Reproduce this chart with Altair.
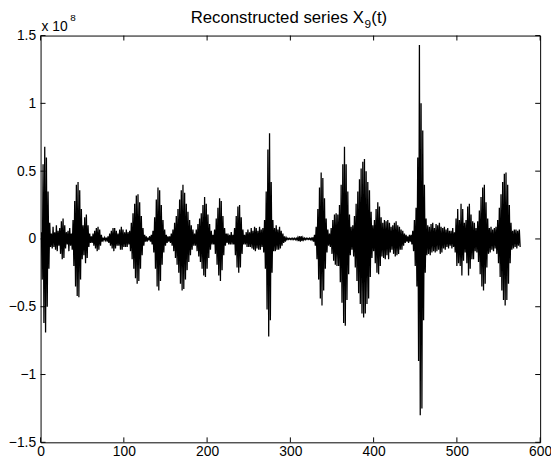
import altair as alt
import pandas as pd

# Series values, in units of 1e6 (t = 1, 2, 3, ...)
burst_000 = [5, -30, 55, -62, 68, -69, 60, -50, 35, -22, 12, -6]
quiet_012 = [4, -7, 9, -6, 5, -8, 10, -9, 6, -5, 8, -11, 13, -15, 15, -14, 10, -7, 5, -4, 6, -9, 8, -5, 4]
burst_037 = [-8, 14, -20, 28, -35, 40, -42, 42, -43, 36, -30, 22, -15, 10, -12, 16, -18, 18, -14, 10]
quiet_057 = [-6, 4, -3, 2, -3, 4, -5, 6, -7, 8, -9, 9, -8, 7, -5, 3, -2, 1, -1, 1, -1, 1, -2, 2, -3, 4]
quiet_083 = [-5, 6, -7, 8, -9, 8, -7, 6, -5, 4, -5, 7, -8, 9, -8, 7, -6, 5, -6, 7, -6, 5, -4]
burst_106 = [6, -9, 12, -15, 19, -22, 26, -29, 32, -33, 33, -31, 27, -22, 17, -12, 8, -5, 3, -2, 2, -2, 1, -1, 2, -2, 3, -4]
burst_134 = [6, -10, 16, -22, 29, -35, 38, -38, 36, -31, 25, -19, 14, -10, 7, -5, 3, -3, 2, -2, 2, -3, 4, -5]
burst_158 = [7, -9, 12, -14, 17, -19, 22, -25, 29, -33, 36, -38, 40, -37, 34, -30, 26, -23, 20, -17, 14, -12, 10, -8, 7, -5, 4]
burst_185 = [-5, 7, -9, 11, -13, 15, -17, 19, -22, 25, -27, 31, -28, 26, -22, 18, -14, 11, -8, 6, -4, 3]
burst_207 = [-4, 7, -11, 15, -19, 23, -27, 30, -31, 28, -23, 17, -12, 8, -5, 4, -3, 4, -4, 3, -4, 5, -4, 3, -4]
burst_232 = [8, -12, 17, -21, 24, -25, 25, -21, 16, -11, 7, -4]
quiet_244 = [3, -4, 5, -6, 7, -6, 5, -6, 8, -7, 6, -8, 9, -9, 8, -7, 6, -8, 9, -8, 7, -6, 8, -10]
burst_268 = [14, -22, 35, -52, 66, -72, 78, -60, 42, -25, 14, -9, 8, -9, 10, -8, 7, -8, 9, -7, 6, -5, 4, -3, 2, -2, 1]
quiet_295 = [-0.5, 0.5, -0.4, 0.4, -0.4, 0.4, -0.5, 0.5, -0.5, 0.5, -0.6, 0.6, -0.8, 1, -1.5, 2, -2, 2, -1.5, 1, -0.8, 0.6, -0.5, 0.5,
             -0.4, 0.4, -0.4, 0.5, -0.5, 0.6, -0.8, 1.2, -2, 3]
burst_329 = [-5, 9, -15, 22, -30, 38, -44, 49, -49, 45, -38, 30, -22, 15, -10, 7, -5, 4]
burst_347 = [-6, 8, -11, 14, -16, 18, -19, 19, -20, 18, -20, 25, -32, 40, -47, 55, -62, 68, -64, 55, -45, 35, -26, 18, -12]
burst_372 = [9, -8, 10, -13, 17, -21, 26, -31, 35, -40, 44, -48, 52, -55, 57, -58, 59, -55, 50, -48, 42, -44, 36, -28, 20]
quiet_397 = [-14, 10, -9, 14, -18, 22, -25, 27, -26, 24, -20, 16, -13, 12, -14, 14, -15, 13, -12, 14, -15, 12, -10, 9, -8, 10]
quiet_423 = [-11, 12, -13, 13, -12, 10, -11, 9, -8, 7, -8, 6, -5, 4, -3, 3, -2, 2, -3, 3, -2, 3, -4, 6, -9, 14]
spike_449 = [-20, 23, -35, 60, -90, 143, -130, 100, -125, 80, -60, 40, -25, 15, -12]
quiet_464 = [10, -11, 9, -12, 11, -10, 12, -9, 8, -10, 11, -9, 10, -8, 12, -11, 9, -10, 8, -7, 9, -8, 7, -6, 8, -7, 6, -5, 6, -7, 8, -6, 5]
burst_497 = [-10, 15, -20, 22, -18, 14, -20, 26, -27, 22, -16, 12, -10, 14, -18, 24, -27, 26, -22, 18, -15, 13, -15, 12, -9, 8]
burst_523 = [-10, 13, -17, 21, -26, 31, -35, 38, -38, 40, -33, 27, -21, 15, -11, 8, -10, 9, -8, 7, -9, 8, -7, 9, -11]
burst_548 = [14, -18, 23, -28, 33, -38, 42, -45, 48, -49, 49, -45, 40, -33, 25, -18, 12, -8, 6, -7, 7, -6, 7, -7, 6, -5, 7, -6]

x_ticks = [0, 100, 200, 300, 400, 500, 600]
y_ticks = [-1.5, -1.0, -0.5, 0.0, 0.5, 1.0, 1.5]

segments = [burst_000, quiet_012, burst_037, quiet_057, quiet_083, burst_106, burst_134,
            burst_158, burst_185, burst_207, burst_232, quiet_244, burst_268, quiet_295,
            burst_329, burst_347, burst_372, quiet_397, quiet_423, spike_449, quiet_464,
            burst_497, burst_523, burst_548]
values = [v for seg in segments for v in seg]
df = pd.DataFrame({"t": list(range(1, len(values) + 1)),
                   "v": [v / 100.0 for v in values]})  # units of 1e8

W, H = 506, 412
FONT = "Liberation Sans"
xs = alt.Scale(domain=[0, 600], nice=False, zero=False)
ys = alt.Scale(domain=[-1.5, 1.5], nice=False, zero=False)

common_axis = dict(title=None, grid=False, domain=False, ticks=False, labelFlush=False,
                   labelFont=FONT, labelFontSize=14, labelColor="black")

line = alt.Chart(df).mark_line(color="black", strokeWidth=1.3, clip=True).encode(
    x=alt.X("t:Q", scale=xs, axis=alt.Axis(values=x_ticks, labelPadding=2, format="d", **common_axis)),
    y=alt.Y("v:Q", scale=ys, axis=alt.Axis(values=y_ticks, labelPadding=5,
                                          labelExpr="datum.value == 0 ? '0' : replace(format(datum.value, '~g'), '-', '\u2212')",
                                          **common_axis)),
)

xt = pd.DataFrame({"x": x_ticks})
yt = pd.DataFrame({"y": y_ticks})
tick_x_bottom = alt.Chart(xt).mark_rule(color="black", strokeWidth=1).encode(
    x=alt.X("x:Q", scale=xs), y=alt.value(H - 5), y2=alt.value(H))
tick_x_top = alt.Chart(xt).mark_rule(color="black", strokeWidth=1).encode(
    x=alt.X("x:Q", scale=xs), y=alt.value(0), y2=alt.value(5))
tick_y_left = alt.Chart(yt).mark_rule(color="black", strokeWidth=1).encode(
    y=alt.Y("y:Q", scale=ys), x=alt.value(0), x2=alt.value(5))
tick_y_right = alt.Chart(yt).mark_rule(color="black", strokeWidth=1).encode(
    y=alt.Y("y:Q", scale=ys), x=alt.value(W - 5), x2=alt.value(W))

one = pd.DataFrame({"k": [0]})

def label(txt, x, y, size, align="left"):
    return alt.Chart(one).mark_text(font=FONT, fontSize=size, align=align, baseline="alphabetic",
                                    color="black").encode(
        x=alt.value(x), y=alt.value(y), text=alt.value(txt))

title_main = label("Reconstructed series X", 152, -13, 17)
title_sub = label("9", 328, -8, 12)
title_end = label("(t)", 335, -13, 17)
exp_base = label("x 10", 1, -5, 14)
exp_sup = label("8", 30, -15, 10)

chart = alt.layer(
    line, tick_x_bottom, tick_x_top, tick_y_left, tick_y_right,
    title_main, title_sub, title_end, exp_base, exp_sup
).properties(
    width=W, height=H,
    background="white",
    autosize=alt.AutoSizeParams(type="none"),
    padding={"left": 33, "top": 25, "right": 11, "bottom": 16},
).configure_view(
    stroke="black", strokeWidth=1
)

chart.save("out.html", embed_options={"renderer": "svg", "actions": False})
